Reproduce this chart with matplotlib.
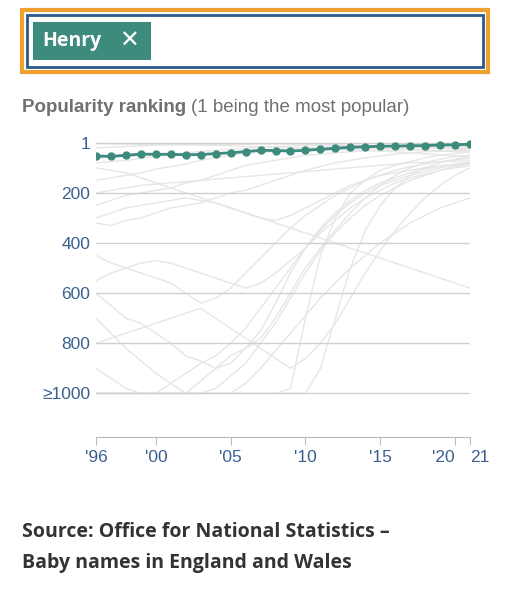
import matplotlib
matplotlib.use("Agg")
import matplotlib.pyplot as plt
from matplotlib.patches import Rectangle

years = list(range(1996, 2022))
henry = [53, 54, 50, 45, 46, 46, 48, 47, 43, 40, 35, 30, 31, 33, 30, 26, 22, 18, 16, 14, 13, 12, 11, 9, 8, 6]

# background names (rank, capped at 1000)
others = [
    [3, 4, 5, 6, 6, 7, 8, 9, 10, 12, 14, 16, 18, 20, 22, 24, 26, 28, 30, 33, 36, 40, 44, 48, 52, 56],
    [20, 18, 15, 12, 10, 9, 8, 7, 7, 6, 6, 5, 5, 5, 6, 7, 8, 10, 12, 14, 16, 18, 20, 22, 25, 28],
    [80, 75, 70, 62, 55, 48, 40, 35, 30, 26, 22, 18, 15, 13, 11, 10, 9, 9, 10, 11, 12, 14, 15, 17, 19, 20],
    [150, 140, 130, 120, 105, 95, 85, 70, 60, 50, 42, 36, 30, 26, 22, 18, 16, 14, 13, 13, 14, 16, 18, 20, 22, 24],
    [250, 230, 210, 200, 190, 180, 160, 150, 130, 110, 90, 80, 70, 60, 50, 45, 40, 36, 32, 30, 28, 28, 30, 32, 35, 38],
    [320, 330, 310, 300, 280, 260, 250, 240, 220, 200, 190, 170, 150, 130, 110, 95, 80, 70, 60, 52, 45, 40, 36, 34, 32, 30],
    [1000, 1000, 1000, 1000, 1000, 1000, 1000, 1000, 1000, 1000, 1000, 1000, 1000, 980, 700, 450, 300, 200, 150, 110, 90, 75, 60, 50, 42, 36],
    [1000, 1000, 1000, 1000, 1000, 1000, 1000, 950, 900, 850, 820, 780, 700, 600, 500, 420, 350, 280, 220, 170, 130, 100, 80, 65, 55, 48],
    [600, 650, 700, 720, 760, 800, 850, 870, 900, 880, 820, 750, 640, 520, 420, 340, 280, 230, 190, 160, 140, 120, 105, 95, 85, 78],
    [700, 760, 820, 870, 920, 960, 1000, 1000, 980, 930, 880, 800, 720, 620, 520, 430, 360, 300, 250, 210, 180, 150, 130, 110, 95, 85],
    [450, 480, 500, 520, 540, 560, 600, 640, 620, 580, 520, 460, 400, 340, 290, 250, 210, 180, 150, 130, 110, 95, 85, 75, 68, 62],
    [100, 110, 120, 140, 160, 180, 200, 220, 240, 260, 280, 300, 320, 340, 360, 380, 400, 420, 440, 460, 480, 500, 520, 540, 560, 580],
    [1000, 1000, 1000, 1000, 1000, 1000, 1000, 1000, 1000, 1000, 1000, 1000, 1000, 1000, 1000, 900, 700, 500, 350, 250, 180, 130, 100, 80, 66, 55],
    [900, 940, 980, 1000, 1000, 960, 920, 880, 850, 800, 740, 660, 580, 500, 420, 350, 290, 240, 200, 170, 150, 130, 115, 100, 90, 82],
    [300, 280, 260, 250, 240, 230, 220, 230, 240, 260, 280, 300, 310, 290, 260, 230, 200, 170, 150, 130, 120, 110, 100, 92, 86, 80],
    [800, 780, 760, 740, 720, 700, 680, 660, 700, 740, 780, 820, 860, 900, 860, 800, 720, 620, 520, 430, 350, 280, 220, 170, 130, 100],
    [200, 190, 180, 170, 165, 160, 155, 150, 145, 140, 135, 130, 125, 120, 115, 110, 105, 100, 95, 90, 85, 80, 78, 76, 74, 72],
    [60, 58, 55, 52, 50, 48, 46, 45, 44, 42, 40, 38, 36, 34, 32, 30, 28, 26, 24, 22, 21, 20, 19, 18, 17, 16],
    [1000, 1000, 1000, 1000, 1000, 1000, 1000, 1000, 1000, 1000, 960, 900, 830, 760, 690, 620, 560, 500, 450, 400, 360, 320, 290, 260, 240, 220],
    [550, 520, 500, 480, 470, 480, 500, 520, 540, 560, 580, 560, 520, 470, 420, 360, 310, 260, 220, 190, 160, 140, 125, 110, 100, 92],
]
yticks = [1, 200, 400, 600, 800, 1000]
ylabels = ["1", "200", "400", "600", "800", "≥1000"]
xticks = [1996, 2000, 2005, 2010, 2015, 2020, 2021]
xlabels = ["'96", "'00", "'05", "'10", "'15", "'20", "21"]

plt.rcParams['font.family'] = ['Liberation Sans', 'DejaVu Sans']
fig = plt.figure(figsize=(5.12, 6.0), dpi=100)

# search box
fig.patches.append(Rectangle((22/512, 1-72/600), 466/512, 62/600, transform=fig.transFigure,
                             facecolor='white', edgecolor='#f0a030', lw=3))
fig.patches.append(Rectangle((27/512, 1-67/600), 456/512, 52/600, transform=fig.transFigure,
                             facecolor='white', edgecolor='#2c5a8a', lw=2))
fig.patches.append(Rectangle((33/512, 1-60/600), 118/512, 38/600, transform=fig.transFigure,
                             facecolor='#3d8b7d', edgecolor='none'))
fig.text(42/512, 1-41/600, "Henry", color='white', fontsize=14, fontweight='bold', va='center',
         family=['Open Sans', 'DejaVu Sans'])
fig.text(119/512, 1-41/600, "✕", color='white', fontsize=17, fontweight='bold', va='center',
         family=['DejaVu Sans'])

t1 = fig.text(22/512, 1-107/600, "Popularity ranking", fontsize=13.5, fontweight='bold', color='#707070', va='center')
fig.canvas.draw()
bb = t1.get_window_extent()
fig.text((bb.x1 + 5)/512, 1-107/600, "(1 being the most popular)", fontsize=13.5, color='#707070', va='center')

ax = fig.add_axes([96/512, 1-437/600, 374/512, 302/600])
for s in others:
    ax.plot(years, s, color='#e6e6e6', lw=1, zorder=1)
ax.plot(years, henry, color='#3d8b7d', lw=2, marker='o', ms=5, zorder=3)
ax.set_ylim(1174, -31)
ax.set_xlim(1996, 2021)
ax.set_yticks(yticks)
ax.set_yticklabels(ylabels)
ax.set_xticks(xticks)
ax.set_xticklabels(xlabels)
ax.yaxis.grid(True, color='#d0d0d0', lw=1, zorder=0)
for sp in ['top', 'right', 'left']:
    ax.spines[sp].set_visible(False)
ax.spines['bottom'].set_color('#bbbbbb')
ax.tick_params(axis='y', length=0, labelsize=12.5, labelcolor='#3a6090', pad=4)
ax.tick_params(axis='x', length=6, color='#bbbbbb', labelsize=12.5, labelcolor='#3a6090')
xl = ax.get_xticklabels()
xl[-2].set_horizontalalignment('right')
xl[-1].set_horizontalalignment('left')
xl[-1].set_x(2021)

fig.text(22/512, 1-532/600, "Source: Office for National Statistics –", fontsize=14, fontweight='bold', color='#333333', va='center',
         family=['Open Sans', 'DejaVu Sans'])
fig.text(22/512, 1-563/600, "Baby names in England and Wales", fontsize=14, fontweight='bold', color='#333333', va='center',
         family=['Open Sans', 'DejaVu Sans'])

fig.savefig("out.png", dpi=100)
